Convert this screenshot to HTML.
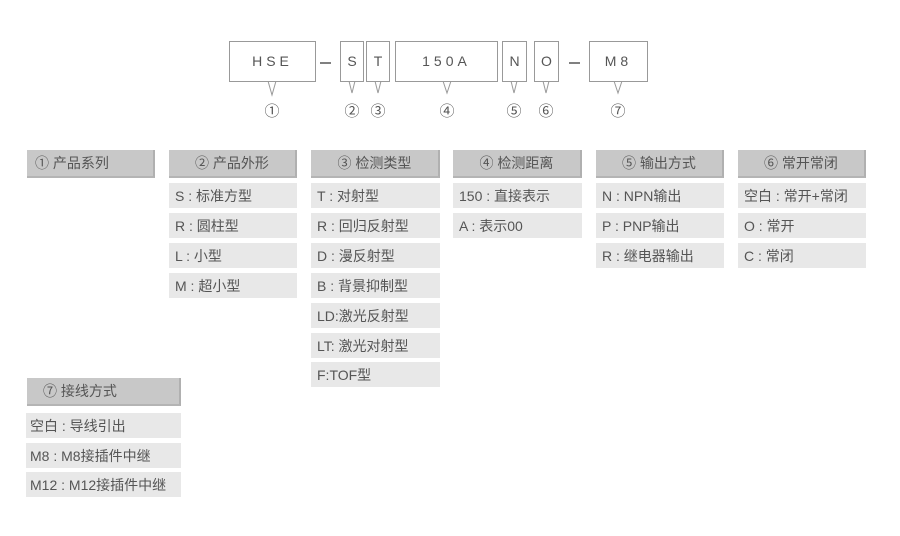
<!DOCTYPE html>
<html><head><meta charset="utf-8"><style>
body{margin:0;width:900px;height:536px;background:#fff;position:relative;overflow:hidden;font-family:"Liberation Sans","Noto Sans CJK SC",sans-serif;color:#555;}
.b{position:absolute;border:1px solid #999;background:#fff;box-sizing:border-box;text-align:center;font-size:14px;line-height:38px;letter-spacing:4px;color:#555}
.h{position:absolute;background:#c8c8c8;box-sizing:border-box;border-right:2px solid #b0b0b0;border-bottom:2px solid #b4b4b4;font-size:14px;text-align:center;line-height:26px;color:#555}
.i{position:absolute;background:#e8e8e8;height:25px;line-height:27px;font-size:14px;padding-left:6px;box-sizing:border-box;color:#555;white-space:nowrap}
.n{position:absolute;font-size:15px;top:100px;width:20px;text-align:center;color:#555}
.d{position:absolute;top:52px;font-size:14px;color:#555}
</style></head><body>
<svg width="900" height="100" style="position:absolute;left:0;top:0">
<g fill="#fff" stroke="#999" stroke-width="1">
<path d="M268,81 L272,95 L276,81"/><path d="M349,81 L352,93 L355,81"/><path d="M375,81 L378,93 L381,81"/>
<path d="M443,81 L447,93 L451,81"/><path d="M511,81 L514,93 L517,81"/><path d="M543,81 L546,93 L549,81"/><path d="M614,81 L618,93 L622,81"/>
</g>
<line x1="320" y1="63" x2="331" y2="63" stroke="#555" stroke-width="1.5"/>
<line x1="569" y1="63" x2="580" y2="63" stroke="#555" stroke-width="1.5"/>
</svg>
<div class="b" style="left:229px;top:41px;width:87px;height:41px">HSE</div>
<div class="b" style="left:340px;top:41px;width:24px;height:41px;letter-spacing:0">S</div>
<div class="b" style="left:366px;top:41px;width:24px;height:41px;letter-spacing:0">T</div>
<div class="b" style="left:395px;top:41px;width:103px;height:41px">150A</div>
<div class="b" style="left:502px;top:41px;width:25px;height:41px;letter-spacing:0">N</div>
<div class="b" style="left:534px;top:41px;width:25px;height:41px;letter-spacing:0">O</div>
<div class="b" style="left:589px;top:41px;width:59px;height:41px">M8</div>
<div class="n" style="left:262px">①</div><div class="n" style="left:342px">②</div><div class="n" style="left:368px">③</div>
<div class="n" style="left:437px">④</div><div class="n" style="left:504px">⑤</div><div class="n" style="left:536px">⑥</div><div class="n" style="left:608px">⑦</div>

<div class="h" style="left:27px;top:150px;width:128px;height:28px;text-align:left;padding-left:8px">① 产品系列</div>
<div class="h" style="left:169px;top:150px;width:128px;height:28px">② 产品外形</div>
<div class="h" style="left:311px;top:150px;width:129px;height:28px">③ 检测类型</div>
<div class="h" style="left:453px;top:150px;width:129px;height:28px">④ 检测距离</div>
<div class="h" style="left:596px;top:150px;width:128px;height:28px">⑤ 输出方式</div>
<div class="h" style="left:738px;top:150px;width:128px;height:28px">⑥ 常开常闭</div>

<div class="i" style="left:169px;top:183px;width:128px">S : 标准方型</div>
<div class="i" style="left:169px;top:213px;width:128px">R : 圆柱型</div>
<div class="i" style="left:169px;top:243px;width:128px">L : 小型</div>
<div class="i" style="left:169px;top:273px;width:128px">M : 超小型</div>

<div class="i" style="left:311px;top:183px;width:129px">T : 对射型</div>
<div class="i" style="left:311px;top:213px;width:129px">R : 回归反射型</div>
<div class="i" style="left:311px;top:243px;width:129px">D : 漫反射型</div>
<div class="i" style="left:311px;top:273px;width:129px">B : 背景抑制型</div>
<div class="i" style="left:311px;top:303px;width:129px">LD:激光反射型</div>
<div class="i" style="left:311px;top:333px;width:129px">LT: 激光对射型</div>
<div class="i" style="left:311px;top:362px;width:129px">F:TOF型</div>

<div class="i" style="left:453px;top:183px;width:129px">150 : 直接表示</div>
<div class="i" style="left:453px;top:213px;width:129px">A : 表示00</div>

<div class="i" style="left:596px;top:183px;width:128px">N : NPN输出</div>
<div class="i" style="left:596px;top:213px;width:128px">P : PNP输出</div>
<div class="i" style="left:596px;top:243px;width:128px">R : 继电器输出</div>

<div class="i" style="left:738px;top:183px;width:128px">空白 : 常开+常闭</div>
<div class="i" style="left:738px;top:213px;width:128px">O : 常开</div>
<div class="i" style="left:738px;top:243px;width:128px">C : 常闭</div>

<div class="h" style="left:27px;top:378px;width:154px;height:28px;text-align:left;padding-left:16px">⑦ 接线方式</div>
<div class="i" style="left:26px;top:413px;width:155px;padding-left:4px">空白 : 导线引出</div>
<div class="i" style="left:26px;top:443px;width:155px;padding-left:4px">M8 : M8接插件中继</div>
<div class="i" style="left:26px;top:472px;width:155px;padding-left:4px">M12 : M12接插件中继</div>
</body></html>
